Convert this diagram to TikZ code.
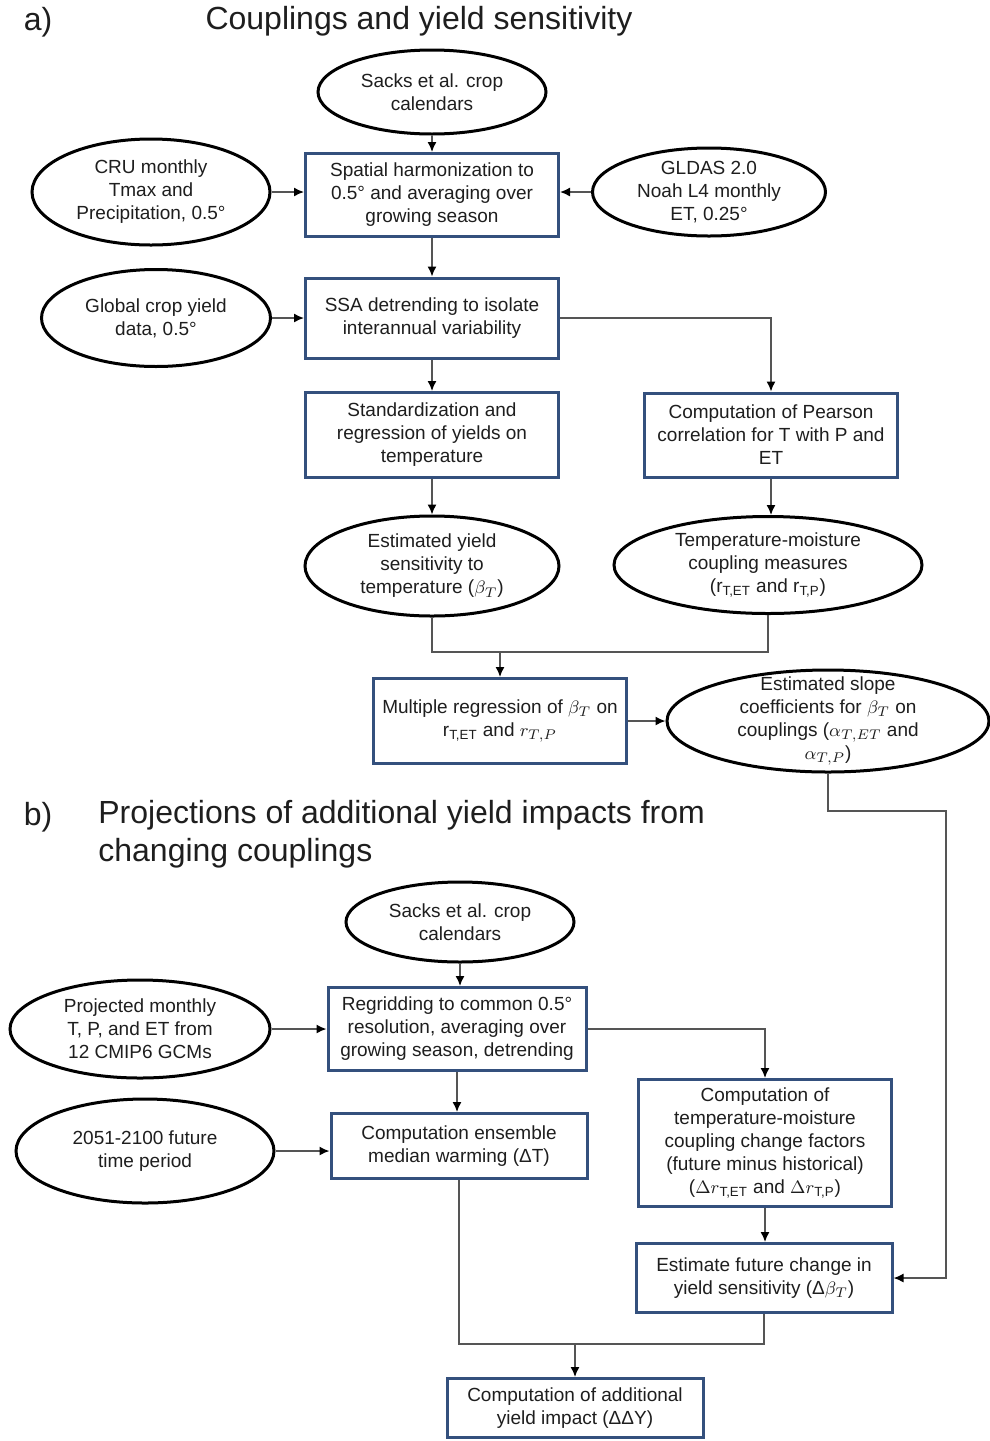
\documentclass[tikz,border=0pt]{standalone}
\usepackage{fontspec}
\setmainfont{Liberation Sans}
\usetikzlibrary{arrows.meta,shapes.geometric}
\definecolor{boxblue}{RGB}{52,80,125}
\definecolor{linegray}{RGB}{85,85,85}
\definecolor{txtcol}{RGB}{30,30,30}
\tikzset{
  stepbox/.style={draw=boxblue,line width=1.5pt,fill=white,rectangle,inner sep=0pt,
    minimum width=#1,align=center,text=txtcol,font=\fontsize{9.5}{11.5}\selectfont},
  stepbox/.default=126.5pt,
  ell/.style={draw=black,line width=1.5pt,fill=white,ellipse,inner sep=0pt},
  etxt/.style={align=center,inner sep=0pt,text=txtcol,font=\fontsize{9.5}{11.5}\selectfont},
  conn/.style={draw=linegray,line width=0.75pt},
  arr/.style={conn,-{Latex[length=5pt,width=4.5pt,color=black]}},
  ttl/.style={inner sep=0pt,text=txtcol,font=\fontsize{16}{19}\selectfont}
}
\begin{document}
\begin{tikzpicture}[x=0.5pt,y=-0.5pt]
\useasboundingbox (0,0) rectangle (990,1441);
\fill[white] (0,0) rectangle (990,1441);

% ---------- a) ----------
\node[ttl] (alabel) at (38,22) {a)};
\node[ttl] (titleA) at (419,21) {Couplings and yield sensitivity};

\node[ell,minimum width=114pt,minimum height=42pt] (sacksA) at (432,92) {};
\node[etxt] (sacksAT) at (sacksA.center) {Sacks et al. crop\\calendars};

\node[stepbox,minimum height=41.5pt] (spatial) at (432,195) {Spatial harmonization to\\0.5\textdegree{} and averaging over\\growing season};

\node[ell,minimum width=119pt,minimum height=53pt] (cru) at (151,192) {};
\node[etxt] (cruT) at (cru.center) {CRU monthly\\Tmax and\\Precipitation, 0.5\textdegree};

\node[ell,minimum width=116.5pt,minimum height=44pt] (gldas) at (709,192) {};
\node[etxt] (gldasT) at (gldas.center) {GLDAS 2.0\\Noah L4 monthly\\ET, 0.25\textdegree};

\node[stepbox,minimum height=40pt] (ssa) at (432,318) {SSA detrending to isolate\\interannual variability};

\node[ell,minimum width=114.5pt,minimum height=48.5pt] (global) at (156,318) {};
\node[etxt] (globalT) at (global.center) {Global crop yield\\data, 0.5\textdegree};

\node[stepbox,minimum height=42.5pt] (std) at (432,435) {Standardization and\\regression of yields on\\temperature};

\node[stepbox,minimum height=42pt] (pearson) at (771,435) {Computation of Pearson\\correlation for T with P and\\ET};

\node[ell,minimum width=127pt,minimum height=50pt] (estyield) at (432,566) {};
\node[etxt] (estyieldT) at (estyield.center) {Estimated yield\\sensitivity to\\temperature ($\beta_T$)};

\node[ell,minimum width=154pt,minimum height=48.5pt] (tempm) at (768,565) {};
\node[etxt] (tempmT) at (tempm.center) {Temperature-moisture\\coupling measures\\(r\textsubscript{T,ET} and r\textsubscript{T,P})};

\node[stepbox,minimum height=42.5pt] (multi) at (500,721) {Multiple regression of $\beta_T$ on\\r\textsubscript{T,ET} and $r_{T,P}$};

\node[ell,minimum width=161pt,minimum height=51pt] (slope) at (828,721) {};
\node[etxt] (slopeT) at (slope.center) {Estimated slope\\coefficients for $\beta_T$ on\\couplings ($\alpha_{T,ET}$ and\\$\alpha_{T,P}$)};

\coordinate (joinA) at (500,652);
\coordinate (turnA) at (946,811);

\draw[arr] (sacksA) -- (spatial);
\draw[arr] (cru.east) -- (spatial.west |- cru.east);
\draw[arr] (gldas.west) -- (spatial.east |- gldas.west);
\draw[arr] (spatial) -- (ssa);
\draw[arr] (global.east) -- (ssa.west |- global.east);
\draw[arr] (ssa.east) -| (pearson.north);
\draw[arr] (ssa) -- (std);
\draw[arr] (pearson.south) -- (pearson.south |- tempm.north);
\draw[arr] (std) -- (estyield);
\draw[conn] (estyield.south) |- (joinA) -| (tempm.south);
\draw[arr] (joinA) -- (multi.north);
\draw[arr] (multi.east) -- (slope.west);

% ---------- b) ----------
\node[ttl] (blabel) at (38,817) {b)};
\node[ttl,anchor=west,align=left] (titleB) at (98,834) {Projections of additional yield impacts from\\changing couplings};

\node[ell,minimum width=114pt,minimum height=40pt] (sacksB) at (460,922) {};
\node[etxt] (sacksBT) at (sacksB.center) {Sacks et al. crop\\calendars};

\node[stepbox=129pt,minimum height=41.5pt] (regrid) at (457,1029) {Regridding to common 0.5\textdegree\\resolution, averaging over\\growing season, detrending};

\node[ell,minimum width=130pt,minimum height=49pt] (proj) at (140,1029) {};
\node[etxt] (projT) at (proj.center) {Projected monthly\\T, P, and ET from\\12 CMIP6 GCMs};

\node[ell,minimum width=129pt,minimum height=52pt] (fut) at (145,1151) {};
\node[etxt] (futT) at (fut.center) {2051-2100 future\\time period};

\node[stepbox=128pt,minimum height=32.5pt] (ens) at (459,1146) {Computation ensemble\\median warming (ΔT)};

\node[stepbox=126.5pt,minimum height=63.5pt] (tempc) at (765,1143) {Computation of\\temperature-moisture\\coupling change factors\\(future minus historical)\\($\Delta r$\textsubscript{T,ET} and $\Delta r$\textsubscript{T,P})};

\node[stepbox=128pt,minimum height=34.5pt] (estf) at (764,1278) {Estimate future change in\\yield sensitivity (Δ$\beta_T$)};

\node[stepbox=128pt,minimum height=29.5pt] (final) at (575,1408) {Computation of additional\\yield impact (ΔΔY)};

\coordinate (joinB) at (575,1344);

\draw[arr] (sacksB) -- (sacksB.south |- regrid.north);
\draw[arr] (proj.east) -- (regrid.west |- proj.east);
\draw[arr] (regrid.south) -- (regrid.south |- ens.north);
\draw[arr] (fut.east) -- (ens.west |- fut.east);
\draw[arr] (regrid.east) -| (tempc.north);
\draw[arr] (tempc.south) -- (tempc.south |- estf.north);
\draw[conn] (ens.south) |- (joinB) -| (estf.south);
\draw[arr] (joinB) -- (final.north);
\draw[arr] (slope.south) |- (turnA) |- (estf.east);
\end{tikzpicture}
\end{document}
